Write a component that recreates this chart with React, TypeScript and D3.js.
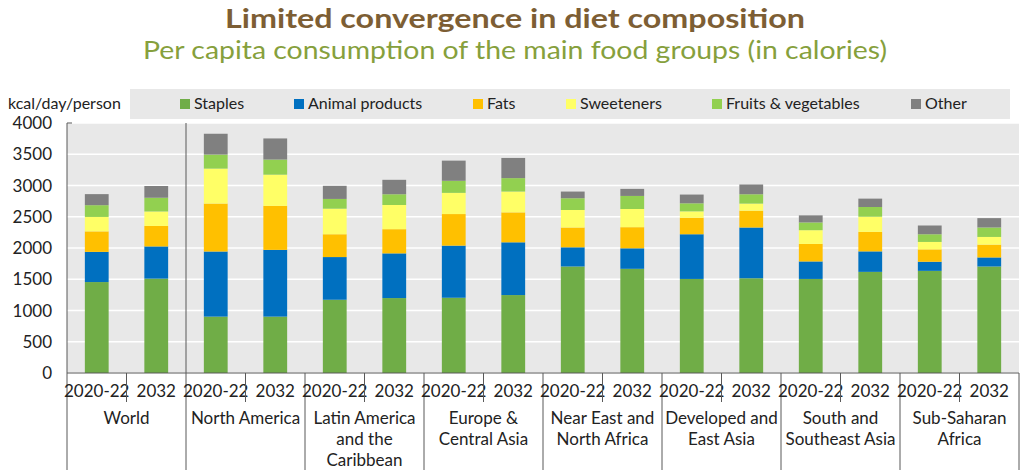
import React from "react";
import * as d3 from "d3";

const regions = [
  ["World"],
  ["North America"],
  ["Latin America", "and the", "Caribbean"],
  ["Europe &", "Central Asia"],
  ["Near East and", "North Africa"],
  ["Developed and", "East Asia"],
  ["South and", "Southeast Asia"],
  ["Sub-Saharan", "Africa"],
];
const periods = ["2020-22", "2032"];
const seriesNames = ["Staples", "Animal products", "Fats", "Sweeteners", "Fruits & vegetables", "Other"];
const seriesColors = ["#70ad47", "#0070c0", "#ffc000", "#ffff66", "#92d050", "#808080"];

// values in region order, each region: [2020-22, 2032]
const staples = [1455, 1510, 902, 902, 1172, 1199, 1204, 1247, 1704, 1667, 1505, 1516, 1505, 1618, 1634, 1704];
const animal = [483, 515, 1042, 1068, 683, 715, 834, 844, 307, 328, 715, 812, 280, 328, 146, 145];
const fats = [328, 328, 767, 704, 365, 387, 505, 479, 317, 338, 264, 269, 280, 312, 198, 205];
const sweeteners = [231, 231, 559, 499, 409, 387, 339, 333, 280, 291, 102, 113, 220, 242, 119, 123];
const fruitsVeg = [188, 220, 225, 242, 156, 172, 193, 215, 188, 209, 129, 150, 124, 156, 123, 151];
const other = [177, 188, 333, 338, 210, 231, 323, 323, 107, 113, 140, 156, 113, 134, 140, 150];

const yTicks = [0, 500, 1000, 1500, 2000, 2500, 3000, 3500, 4000];

const W = 1024;
const H = 476;
const FONT = "Lato, 'Open Sans', sans-serif";

export default function App() {
  const left = 67;
  const right = 1019;
  const top = 123;
  const bottom = 373;

  const keys = regions.flatMap((_, ri) => periods.map((_, pi) => `${ri}-${pi}`));
  const rows = keys.map((k, i) => ({
    key: k,
    s0: staples[i],
    s1: animal[i],
    s2: fats[i],
    s3: sweeteners[i],
    s4: fruitsVeg[i],
    s5: other[i],
  }));
  const stack = d3.stack<any>().keys(["s0", "s1", "s2", "s3", "s4", "s5"]);
  const stacked = stack(rows);

  const x = d3.scaleBand<string>().domain(keys).range([left, right]).paddingInner(0.6).paddingOuter(0.3);
  const slot = d3.scaleBand<string>().domain(keys).range([left, right]).padding(0);
  const y = d3.scaleLinear().domain([0, 4000]).range([bottom, top]);
  const slotW = slot.step();

  const legendX = [180, 294, 473, 566, 712, 911];

  return (
    <svg width={W} height={H} style={{ display: "block", position: "absolute", left: 0, top: 0 }} fontFamily={FONT}>
      <rect x={0} y={0} width={W} height={H} fill="#ffffff" />
      <text x={515} y={28} textAnchor="middle" fontSize={27} fontWeight="bold" fill="#7d5e34" textLength={580} lengthAdjust="spacingAndGlyphs">
        Limited convergence in diet composition
      </text>
      <text x={515} y={59} textAnchor="middle" fontSize={25} fill="#86a03c" textLength={744} lengthAdjust="spacingAndGlyphs">
        Per capita consumption of the main food groups (in calories)
      </text>

      {/* legend */}
      <rect x={130} y={89} width={880} height={30} fill="#e8e8e8" />
      <text x={8} y={109} fontSize={16} fill="#222">kcal/day/person</text>
      {seriesNames.map((n, i) => (
        <g key={n}>
          <rect x={legendX[i]} y={99} width={10} height={10} fill={seriesColors[i]} />
          <text x={legendX[i] + 14} y={109} fontSize={16} fill="#222">{n}</text>
        </g>
      ))}

      {/* plot background */}
      <rect x={left} y={top} width={right - left} height={bottom - top} fill="#e8e8e8" />
      {yTicks.map((t) => (
        <line key={t} x1={left} x2={right} y1={y(t)} y2={y(t)} stroke="#ffffff" strokeWidth={1.5} />
      ))}

      {/* bars */}
      {stacked.map((layer, li) => (
        <g key={li} fill={seriesColors[li]}>
          {layer.map((d: any, i: number) => (
            <rect
              key={i}
              x={x(keys[i])}
              y={y(d[1])}
              width={x.bandwidth()}
              height={y(d[0]) - y(d[1])}
            />
          ))}
        </g>
      ))}

      {/* World separator */}
      <line x1={left + slotW * 2} x2={left + slotW * 2} y1={top} y2={bottom} stroke="#595959" strokeWidth={1} />

      {/* axes */}
      <line x1={left} x2={left} y1={top} y2={bottom} stroke="#595959" strokeWidth={1} />
      <line x1={left} x2={left + 5} y1={top} y2={top} stroke="#595959" strokeWidth={1} />
      <line x1={left} x2={right} y1={bottom} y2={bottom} stroke="#595959" strokeWidth={1} />
      {yTicks.map((t) => (
        <text key={t} x={52} y={y(t) + 6} textAnchor="end" fontSize={17} fill="#222">
          {t}
        </text>
      ))}

      {/* category axis */}
      {keys.map((k, i) => {
        const x0 = slot(k) as number;
        const isGroup = i % 2 === 0;
        return (
          <g key={k}>
            <line
              x1={x0}
              x2={x0}
              y1={bottom}
              y2={isGroup ? 470 : 402}
              stroke="#595959"
              strokeWidth={1}
            />
            <text x={x0 + slotW / 2} y={397} textAnchor="middle" fontSize={17} fill="#222">
              {periods[i % 2]}
            </text>
          </g>
        );
      })}
      <line x1={right} x2={right} y1={bottom} y2={470} stroke="#595959" strokeWidth={1} />
      {regions.map((lines, ri) => {
        const cx = left + slotW * (ri * 2 + 1);
        return (
          <text key={ri} x={cx} textAnchor="middle" fontSize={17} fill="#222">
            {lines.map((l, li) => (
              <tspan key={li} x={cx} y={424 + li * 21}>
                {l}
              </tspan>
            ))}
          </text>
        );
      })}
    </svg>
  );
}
